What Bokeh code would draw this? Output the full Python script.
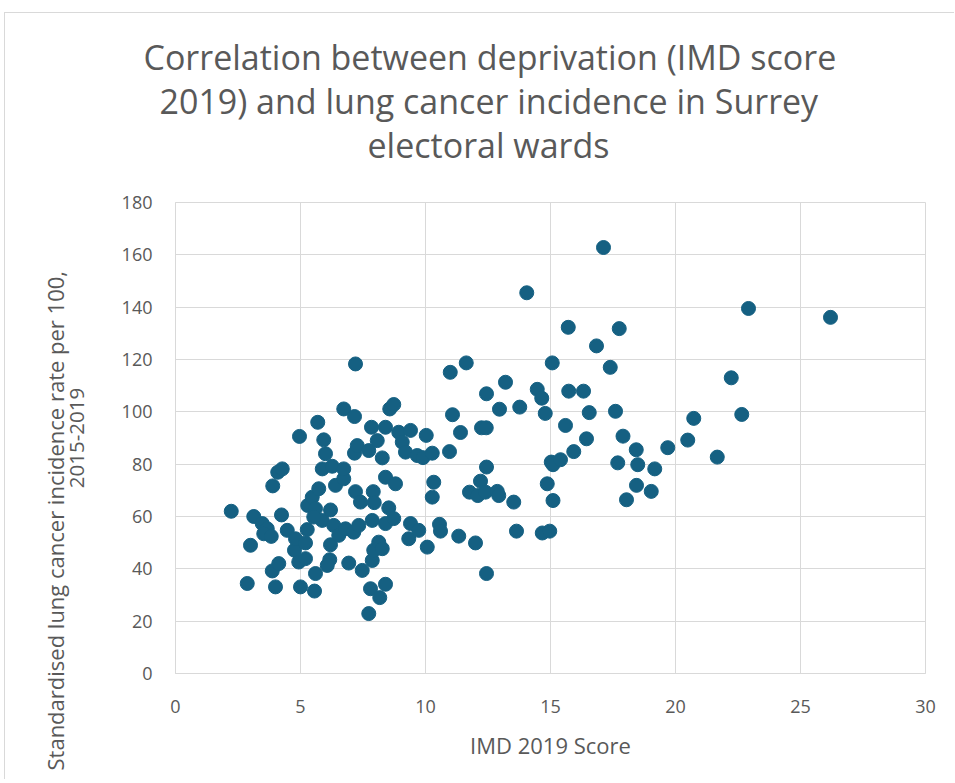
from bokeh.plotting import figure
from bokeh.models import Range1d, FixedTicker, Title
from bokeh.embed import file_html
from bokeh.resources import INLINE

title_lines = ["Correlation between deprivation (IMD score",
               "2019) and lung cancer incidence in Surrey",
               "electoral wards"]
x_label = "IMD 2019 Score"
y_label_lines = ["Standardised lung cancer incidence rate per 100,", "2015-2019"]
x_ticks = [0, 5, 10, 15, 20, 25, 30]
y_ticks = [0, 20, 40, 60, 80, 100, 120, 140, 160, 180]

imd_score = [2.23, 2.87, 3.0, 3.13, 3.47, 3.67, 3.53, 3.83, 3.87, 3.89, 4.0, 4.09, 4.27,
             4.13, 4.24, 4.47, 4.76, 4.8, 4.93, 4.96, 5.0, 5.2, 5.2, 5.27, 5.29, 5.47,
             5.56, 5.6, 5.6, 5.69, 5.73, 5.87, 5.87, 5.93, 6.0, 6.2, 6.2, 6.17, 6.07,
             6.33, 6.27, 6.53, 6.4, 6.73, 6.73, 6.73, 6.8, 6.93, 7.13, 7.16, 7.16, 7.2,
             7.2, 7.27, 7.33, 7.4, 7.47, 7.73, 7.73, 7.8, 7.84, 7.91, 7.95, 7.87, 7.87,
             7.93, 8.07, 8.13, 8.17, 8.27, 8.27, 8.4, 8.4, 8.4, 8.4, 8.53, 8.57, 8.73,
             8.73, 8.8, 8.93, 9.07, 9.2, 9.33, 9.4, 9.4, 9.67, 9.73, 9.9, 10.03, 10.07,
             10.27, 10.33, 10.27, 10.56, 10.6, 10.96, 10.99, 11.08, 11.33, 11.4, 11.63,
             11.76, 12.0, 12.09, 12.2, 12.24, 12.43, 12.4, 12.44, 12.44, 12.44, 12.87,
             12.93, 12.96, 13.2, 13.53, 13.64, 13.77, 14.05, 14.47, 14.65, 14.67, 14.79,
             14.87, 14.97, 15.03, 15.07, 15.1, 15.1, 15.4, 15.6, 15.71, 15.73, 15.93,
             16.32, 16.44, 16.55, 16.84, 17.12, 17.39, 17.6, 17.69, 17.75, 17.9, 18.04,
             18.43, 18.44, 18.49, 19.03, 19.17, 19.69, 20.49, 20.73, 21.67, 22.23, 22.65,
             22.92, 26.2, 5.53]
incidence_rate = [62.0, 34.4, 49.0, 60.0, 57.3, 55.3, 53.4, 52.4, 39.2, 71.7, 33.1, 76.9, 78.2,
                  42.0, 60.6, 54.7, 47.1, 51.5, 42.6, 90.6, 33.1, 43.9, 49.9, 55.0, 64.2, 67.4,
                  31.5, 38.2, 63.0, 96.0, 70.6, 58.5, 78.2, 89.3, 84.0, 62.5, 49.2, 43.5, 41.3,
                  56.6, 79.2, 52.8, 71.9, 74.4, 78.2, 101.1, 55.3, 42.2, 54.0, 84.2, 98.2, 118.3,
                  69.5, 87.1, 56.6, 65.5, 39.4, 85.2, 22.9, 32.4, 94.1, 69.5, 65.3, 58.5, 43.2,
                  47.1, 89.0, 50.2, 29.0, 47.7, 82.4, 94.1, 75.0, 57.3, 34.1, 63.3, 101.1, 102.8,
                  59.2, 72.5, 92.2, 88.4, 84.6, 51.5, 92.9, 57.3, 83.3, 54.7, 82.5, 91.0, 48.3,
                  84.2, 73.1, 67.4, 57.0, 54.4, 84.8, 115.1, 98.9, 52.5, 92.1, 118.7,
                  69.3, 49.9, 68.0, 73.5, 93.9, 93.9, 69.3, 78.9, 106.9, 38.2, 69.6,
                  68.0, 101.0, 111.3, 65.5, 54.4, 101.8, 145.5, 108.6, 105.2, 53.7, 99.4,
                  72.5, 54.4, 80.8, 118.7, 79.8, 66.1, 81.7, 94.8, 132.3, 107.9, 84.8,
                  107.9, 89.7, 99.7, 125.2, 162.8, 117.0, 100.2, 80.5, 131.8, 90.7, 66.4,
                  85.5, 71.9, 79.8, 69.6, 78.2, 86.3, 89.2, 97.5, 82.7, 113.0, 99.0,
                  139.5, 136.1, 59.8]

TEXT = "#595959"
GRID = "#D9D9D9"
FONT = "Open Sans"
TITLE_SIZE = "34px"

# figure placed at page (5, 13) because of the CSS margin + border below
OX, OY = 5, 13
W, H = 950, 767
FL, FT, FR, FB = 175 - OX, 202 - OY, 925 - OX, 673 - OY   # frame edges in canvas px
p = figure(width=W, height=H, output_backend="svg", toolbar_location=None,
           x_range=Range1d(0, 30), y_range=Range1d(0, 180),
           min_border_left=FL, min_border_right=W - FR, min_border_top=FT,
           min_border_bottom=H - FB)
p.styles = {"margin-left": "4px", "margin-top": "12px",
            "border-left": "1px solid #D9D9D9", "border-top": "1px solid #D9D9D9"}
p.outline_line_color = GRID
p.background_fill_color = "white"
p.border_fill_color = "white"

p.scatter(imd_score, incidence_rate, size=14, color="#156082", line_color="#156082")

for ax in (p.xaxis[0], p.yaxis[0]):
    ax.axis_line_color = GRID
    ax.major_tick_line_color = None
    ax.minor_tick_line_color = None
    ax.major_label_text_color = TEXT
    ax.major_label_text_font = FONT
    ax.major_label_text_font_size = "18px"
    ax.axis_label_text_color = TEXT
    ax.axis_label_text_font = FONT
    ax.axis_label_text_font_style = "normal"
p.xaxis.axis_label_text_font_size = "22px"
p.yaxis.axis_label_text_font_size = "20.5px"

p.xaxis.ticker = FixedTicker(ticks=x_ticks)
p.yaxis.ticker = FixedTicker(ticks=y_ticks)
p.xaxis.major_label_standoff = 20
p.yaxis.major_label_standoff = 17
p.xaxis.axis_label = x_label
p.xaxis.axis_label_standoff = 14
p.yaxis.axis_label = y_label_lines[1]
p.yaxis.axis_label_standoff = 35

p.xgrid.grid_line_color = GRID
p.ygrid.grid_line_color = GRID
p.xgrid.ticker = FixedTicker(ticks=x_ticks)
p.ygrid.ticker = FixedTicker(ticks=y_ticks)

# outer line of the two-line y-axis title, starting below the frame like the reference
p.add_layout(Title(text=y_label_lines[0], align="left", offset=-97, standoff=-6,
                   text_font=FONT, text_font_size="22px", text_color=TEXT,
                   text_font_style="normal"), "left")

# main title: spacer, then lines stacked outward from the frame
p.add_layout(Title(text="\u00a0", text_font_size="1px", standoff=34), "above")
for line, off in [(title_lines[2], 192), (title_lines[1], -16)]:
    p.add_layout(Title(text=line, align="left", offset=off, standoff=-4,
                       text_font=FONT, text_font_size=TITLE_SIZE, text_color=TEXT,
                       text_font_style="normal"), "above")
p.title.text = title_lines[0]
p.title.align = "left"
p.title.offset = -32
p.title.standoff = -4
p.title.text_font = FONT
p.title.text_font_size = TITLE_SIZE
p.title.text_color = TEXT
p.title.text_font_style = "normal"

open("out.html", "w").write(file_html(p, INLINE))
